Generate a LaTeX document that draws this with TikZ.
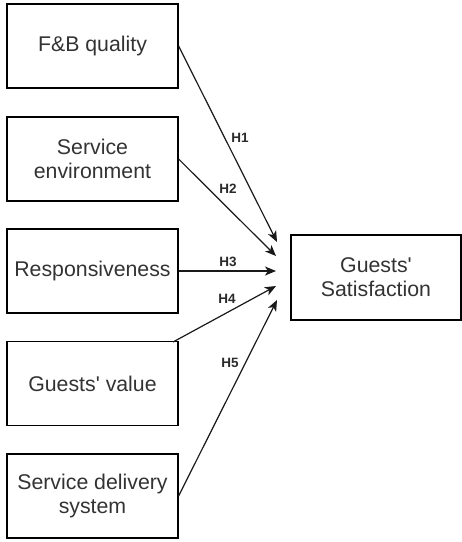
\documentclass[tikz,border=0pt]{standalone}
\usepackage{fontspec}
\setmainfont{Liberation Sans}
\usetikzlibrary{arrows.meta}
\definecolor{txt}{HTML}{333333}
\definecolor{lbl}{HTML}{2A2A2A}
\begin{document}
\begin{tikzpicture}[x=1pt,y=-1pt,
  box/.style={draw=black,line width=1.2pt,minimum width=171pt,minimum height=84pt,
    inner sep=0pt,align=center,text=txt,font=\fontsize{21.3}{24}\selectfont},
  conn/.style={draw=black!90,line width=1.2pt,-{Stealth[length=11pt,width=9pt,inset=3pt]}},
  hlab/.style={text=lbl,font=\fontsize{13.5}{15}\selectfont\bfseries,inner sep=0pt}]
\useasboundingbox (0,0) rectangle (462,542);
\node[box] (b1) at (92.5,46) {F\&B quality};
\node[box] (b2) at (92.5,159) {Service\\environment};
\node[box] (b3) at (92.5,271) {Responsiveness};
\node[box] (b4) at (92.5,383.5) {Guests\textquotesingle{} value};
\node[box] (b5) at (92.5,496) {Service delivery\\system};
\node[box,minimum width=170pt,minimum height=85pt] (gs) at (376,277.5) {Guests\textquotesingle\\Satisfaction};
\coordinate (t1) at (277,242);
\coordinate (t2) at (276,256);
\coordinate (t3) at (276,271);
\coordinate (t4) at (276,286);
\coordinate (t5) at (277,300);
\coordinate (s4) at (173,342);
\draw[conn] (b1.east) -- (t1);
\draw[conn] (b2.east) -- (t2);
\draw[conn] (b3.east) -- (t3);
\draw[conn] (s4) -- (t4);
\draw[conn] (b5.east) -- (t5);
\node[hlab] (h1) at (240,138) {H1};
\node[hlab] (h2) at (228,189) {H2};
\node[hlab] (h3) at (228,262) {H3};
\node[hlab] (h4) at (227,299) {H4};
\node[hlab] (h5) at (230,363) {H5};
\end{tikzpicture}
\end{document}
